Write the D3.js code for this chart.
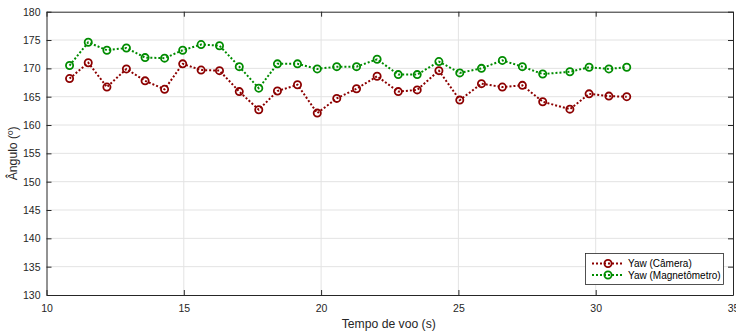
<!DOCTYPE html>
<html><head><meta charset="utf-8">
<script src="https://cdn.jsdelivr.net/npm/d3@7/dist/d3.min.js"></script>
<style>body{margin:0;background:#fff;}svg{display:block;font-family:"Liberation Sans",Arial,sans-serif;}</style>
</head><body>
<svg id="c" width="736" height="332"></svg>
<script>
const times = [10.84,11.52,12.20,12.91,13.59,14.30,14.96,15.63,16.30,17.02,17.73,18.41,19.14,19.86,20.57,21.29,22.04,22.81,23.50,24.29,25.05,25.84,26.60,27.33,28.07,29.06,29.76,30.48,31.13];
const yawCamera = [168.2,171.0,166.7,169.9,167.8,166.3,170.8,169.7,169.6,165.9,162.7,166.0,167.1,162.1,164.7,166.4,168.6,165.9,166.2,169.6,164.4,167.3,166.7,167.0,164.1,162.8,165.5,165.1,165.0];
const yawMag = [170.5,174.6,173.2,173.6,171.9,171.8,173.2,174.2,174.0,170.3,166.5,170.8,170.8,169.9,170.3,170.3,171.6,168.9,168.9,171.2,169.2,170.0,171.4,170.3,169.0,169.4,170.2,169.9,170.2];
const xTicks = [10,15,20,25,30,35];
const yTicks = [130,135,140,145,150,155,160,165,170,175,180];
const seriesNames = ["Yaw (Câmera)","Yaw (Magnetômetro)"];
const seriesColors = ["#8c0000","#008c00"];

const svg = d3.select("#c");
const L=46.5,R=733,T=11.7,B=295;
const x = d3.scaleLinear().domain([10,35]).range([L,R]);
const y = d3.scaleLinear().domain([130,180]).range([B,T]);
const axisCol="#262626";

// grid
const g = svg.append("g");
g.selectAll(".gx").data(xTicks.slice(1,-1)).enter().append("line")
 .attr("x1",d=>x(d)).attr("x2",d=>x(d)).attr("y1",T).attr("y2",B)
 .attr("stroke","#e3e3e3").attr("stroke-width",1);
g.selectAll(".gy").data(yTicks.slice(1,-1)).enter().append("line")
 .attr("y1",d=>y(d)).attr("y2",d=>y(d)).attr("x1",L).attr("x2",R)
 .attr("stroke","#e3e3e3").attr("stroke-width",1);

// axes
const tickLen=5;
const ax = d3.axisBottom(x).tickValues(xTicks).tickSizeInner(-tickLen).tickSizeOuter(0).tickPadding(10);
const ay = d3.axisLeft(y).tickValues(yTicks).tickSizeInner(-tickLen).tickSizeOuter(0).tickPadding(6);
const axT = d3.axisTop(x).tickValues(xTicks).tickSizeInner(-tickLen).tickSizeOuter(0).tickFormat("");
const ayR = d3.axisRight(y).tickValues(yTicks).tickSizeInner(-tickLen).tickSizeOuter(0).tickFormat("");
function style(sel){
  sel.selectAll("path").attr("stroke",axisCol).attr("stroke-width",1);
  sel.selectAll("line").attr("stroke",axisCol).attr("stroke-width",1);
  sel.selectAll("text").attr("fill",axisCol).style("font-size","10.5px").style("font-family","'Liberation Sans',Arial,sans-serif");
}
svg.append("g").attr("transform",`translate(0,${B})`).call(ax).call(style);
svg.append("g").attr("transform",`translate(${L},0)`).call(ay).call(style);
svg.append("g").attr("transform",`translate(0,${T})`).call(axT).call(style);
svg.append("g").attr("transform",`translate(${R},0)`).call(ayR).call(style);

// labels
svg.append("text").attr("x",(L+R)/2-1).attr("y",328).attr("text-anchor","middle")
 .attr("fill",axisCol).style("font-size","12.2px").text("Tempo de voo (s)");
svg.append("text").attr("transform",`translate(17,${(T+B)/2}) rotate(-90)`).attr("text-anchor","middle")
 .attr("fill",axisCol).style("font-size","12.2px").text("Ângulo (º)");

// series
const series=[yawCamera,yawMag];
const line=d3.line().x((d,i)=>x(times[i])).y(d=>y(d));
series.forEach((s,k)=>{
  svg.append("path").datum(s).attr("d",line).attr("fill","none")
   .attr("stroke",seriesColors[k]).attr("stroke-width",2).attr("stroke-dasharray","2,2");
  svg.append("g").selectAll("circle").data(s).enter().append("circle")
   .attr("cx",(d,i)=>x(times[i])).attr("cy",d=>y(d)).attr("r",3.6)
   .attr("fill","none").attr("stroke",seriesColors[k]).attr("stroke-width",1.8);
});

// legend
const lg=svg.append("g");
lg.append("rect").attr("x",585.5).attr("y",253.5).attr("width",138).attr("height",31)
 .attr("fill","#fff").attr("stroke",axisCol).attr("stroke-width",0.8);
seriesNames.forEach((n,k)=>{
  const yy=263.5+k*11.5;
  lg.append("line").attr("x1",592).attr("x2",623).attr("y1",yy).attr("y2",yy)
   .attr("stroke",seriesColors[k]).attr("stroke-width",2).attr("stroke-dasharray","2,2");
  lg.append("circle").attr("cx",608).attr("cy",yy).attr("r",3.6).attr("fill","none")
   .attr("stroke",seriesColors[k]).attr("stroke-width",1.8);
  lg.append("text").attr("x",628).attr("y",yy+3.5).attr("fill","#000").style("font-size","10px").text(n);
});
</script>
</body></html>
